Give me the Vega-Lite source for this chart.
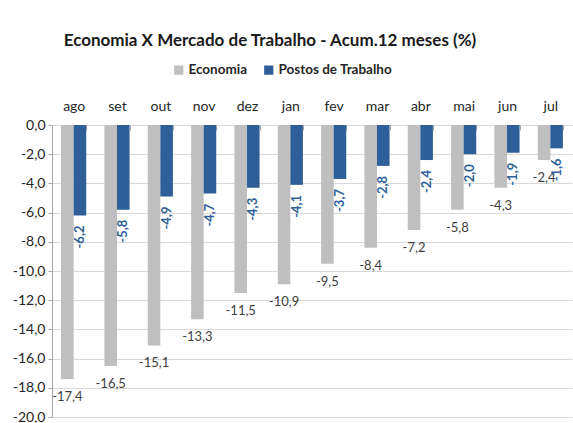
{
  "$schema": "https://vega.github.io/schema/vega-lite/v6.json",
  "width": 520,
  "height": 292,
  "autosize": {"type": "none"},
  "padding": {"left": 52, "top": 125, "right": 1, "bottom": 6},
  "background": "white",
  "title": {
    "text": "Economia X Mercado de Trabalho - Acum.12 meses (%)",
    "font": "Lato",
    "fontSize": 17,
    "fontWeight": "bold",
    "color": "#1a1a1a",
    "anchor": "middle",
    "frame": "group",
    "dx": -42,
    "offset": 13
  },
  "config": {
    "locale": {"number": {"decimal": ",", "thousands": ".", "grouping": [3], "currency": ["R$", ""], "minus": "-"}},
    "view": {"stroke": null},
    "font": "Lato"
  },
  "data": {
    "values": [
      {"mes": "ago", "serie": "Economia", "valor": -17.4},
      {"mes": "set", "serie": "Economia", "valor": -16.5},
      {"mes": "out", "serie": "Economia", "valor": -15.1},
      {"mes": "nov", "serie": "Economia", "valor": -13.3},
      {"mes": "dez", "serie": "Economia", "valor": -11.5},
      {"mes": "jan", "serie": "Economia", "valor": -10.9},
      {"mes": "fev", "serie": "Economia", "valor": -9.5},
      {"mes": "mar", "serie": "Economia", "valor": -8.4},
      {"mes": "abr", "serie": "Economia", "valor": -7.2},
      {"mes": "mai", "serie": "Economia", "valor": -5.8},
      {"mes": "jun", "serie": "Economia", "valor": -4.3},
      {"mes": "jul", "serie": "Economia", "valor": -2.4},
      {"mes": "ago", "serie": "Postos de Trabalho", "valor": -6.2},
      {"mes": "set", "serie": "Postos de Trabalho", "valor": -5.8},
      {"mes": "out", "serie": "Postos de Trabalho", "valor": -4.9},
      {"mes": "nov", "serie": "Postos de Trabalho", "valor": -4.7},
      {"mes": "dez", "serie": "Postos de Trabalho", "valor": -4.3},
      {"mes": "jan", "serie": "Postos de Trabalho", "valor": -4.1},
      {"mes": "fev", "serie": "Postos de Trabalho", "valor": -3.7},
      {"mes": "mar", "serie": "Postos de Trabalho", "valor": -2.8},
      {"mes": "abr", "serie": "Postos de Trabalho", "valor": -2.4},
      {"mes": "mai", "serie": "Postos de Trabalho", "valor": -2.0},
      {"mes": "jun", "serie": "Postos de Trabalho", "valor": -1.9},
      {"mes": "jul", "serie": "Postos de Trabalho", "valor": -1.6}
    ]
  },
  "encoding": {
    "x": {
      "field": "mes",
      "type": "nominal",
      "sort": ["ago", "set", "out", "nov", "dez", "jan", "fev", "mar", "abr", "mai", "jun", "jul"],
      "scale": {"paddingInner": 0.42, "paddingOuter": 0.21},
      "axis": {
        "orient": "top",
        "title": null,
        "domain": false,
        "labelAngle": 0,
        "labelFont": "Lato",
        "labelFontSize": 14,
        "labelColor": "#262626",
        "tickBand": "extent",
        "tickSize": -5,
        "tickColor": "#a6a6a6",
        "labelPadding": 17
      }
    },
    "xOffset": {
      "field": "serie",
      "type": "nominal",
      "sort": ["Economia", "Postos de Trabalho"],
      "scale": {"paddingInner": 0, "paddingOuter": 0}
    },
    "y": {
      "field": "valor",
      "type": "quantitative",
      "scale": {"domain": [-20, 0], "nice": false},
      "axis": {
        "title": null,
        "values": [0, -2, -4, -6, -8, -10, -12, -14, -16, -18, -20],
        "format": ".1f",
        "labelFont": "Lato",
        "labelFontSize": 14,
        "labelColor": "#262626",
        "domainColor": "#a6a6a6",
        "tickColor": "#a6a6a6",
        "tickSize": 4,
        "labelPadding": 3,
        "gridColor": "#d9d9d9"
      }
    }
  },
  "layer": [
    {
      "mark": {"type": "bar"},
      "encoding": {
        "color": {
          "field": "serie",
          "type": "nominal",
          "scale": {"domain": ["Economia", "Postos de Trabalho"], "range": ["#bfbfbf", "#2f5f98"]},
          "legend": {
            "title": null,
            "orient": "none",
            "direction": "horizontal",
            "legendX": 120,
            "legendY": -62,
            "symbolType": "square",
            "symbolSize": 85,
            "symbolStrokeWidth": 0,
            "labelFont": "Lato",
            "labelFontSize": 13.5,
            "labelFontWeight": "bold",
            "labelColor": "#262626",
            "columnPadding": 14,
            "labelOffset": 3
          }
        }
      }
    },
    {
      "transform": [{"filter": "datum.serie === 'Economia'"}],
      "mark": {"type": "text", "baseline": "middle", "align": "center", "dy": 18, "fontSize": 13, "font": "Lato", "color": "#404040"},
      "encoding": {
        "text": {"field": "valor", "type": "quantitative", "format": ".1f"}
      }
    },
    {
      "transform": [{"filter": "datum.serie === 'Postos de Trabalho'"}],
      "mark": {"type": "text", "baseline": "middle", "align": "right", "angle": 270, "dx": -10, "fontSize": 13, "font": "Lato", "fontWeight": "bold", "color": "#2f5f98"},
      "encoding": {
        "text": {"field": "valor", "type": "quantitative", "format": ".1f"}
      }
    }
  ]
}
